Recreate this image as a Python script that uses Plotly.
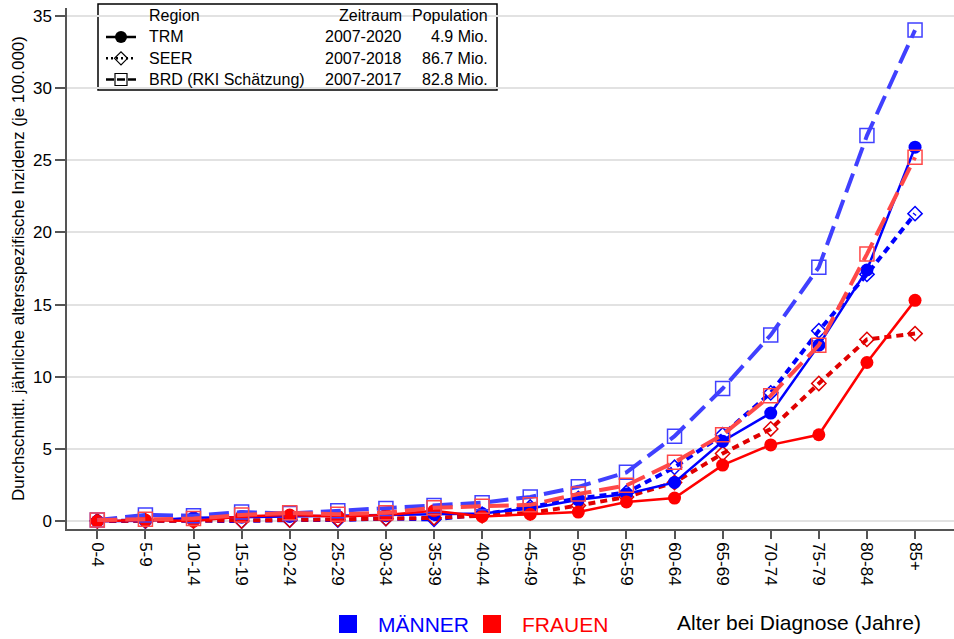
import plotly.graph_objects as go

age_groups = ["0-4", "5-9", "10-14", "15-19", "20-24", "25-29", "30-34", "35-39", "40-44",
              "45-49", "50-54", "55-59", "60-64", "65-69", "70-74", "75-79", "80-84", "85+"]

men_trm = [0.02, 0.05, 0.25, 0.3, 0.35, 0.35, 0.4, 0.5, 0.55, 0.9, 1.5, 1.9, 2.7, 5.55, 7.5, 12.2, 17.4, 25.9]
women_trm = [0.02, 0.1, 0.03, 0.35, 0.45, 0.35, 0.45, 0.75, 0.35, 0.5, 0.65, 1.35, 1.62, 3.9, 5.3, 6.0, 11.0, 15.3]
men_seer = [0.05, 0.02, 0.05, 0.03, 0.1, 0.1, 0.2, 0.15, 0.5, 1.0, 1.6, 2.0, 3.75, 6.0, 8.9, 13.2, 17.1, 21.3]
women_seer = [0.03, 0.05, 0.03, 0.03, 0.1, 0.15, 0.2, 0.25, 0.4, 0.6, 1.1, 1.7, 2.7, 4.7, 6.4, 9.55, 12.6, 13.0]
men_brd = [0.1, 0.45, 0.4, 0.65, 0.55, 0.75, 0.9, 1.1, 1.3, 1.7, 2.4, 3.4, 5.9, 9.2, 12.9, 17.6, 26.7, 34.0]
women_brd = [0.1, 0.15, 0.2, 0.45, 0.6, 0.5, 0.6, 0.95, 1.05, 1.15, 1.9, 2.5, 4.1, 6.0, 8.7, 12.2, 18.5, 25.2]

legend_regions = ["TRM", "SEER", "BRD (RKI Schätzung)"]
legend_periods = ["2007-2020", "2007-2018", "2007-2017"]
legend_pops = ["4.9 Mio.", "86.7 Mio.", "82.8 Mio."]

FONT = "Liberation Sans, Arial, sans-serif"
BLUE = "#0000ff"
RED = "#ff0000"
BLUE_L = "#4040ff"
RED_L = "#ff4848"

fig = go.Figure()

def add(y, color, kind):
    if kind == "seer":
        fig.add_trace(go.Scatter(x=age_groups, y=y, mode="lines+markers", showlegend=False,
                                 line=dict(color=color, width=4, dash="7px,5px"),
                                 marker=dict(symbol="diamond-open", size=11, color=color, line=dict(width=1.5, color=color))))
    elif kind == "trm":
        fig.add_trace(go.Scatter(x=age_groups, y=y, mode="lines+markers", showlegend=False,
                                 line=dict(color=color, width=2.5),
                                 marker=dict(symbol="circle", size=13, color=color)))
    else:
        fig.add_trace(go.Scatter(x=age_groups, y=y, mode="lines+markers", showlegend=False,
                                 line=dict(color=color, width=4, dash="20px,8px"),
                                 marker=dict(symbol="square-open", size=14, color=color, line=dict(width=1.5, color=color))))

add(men_seer, BLUE, "seer")
add(women_seer, "#e00000", "seer")
add(men_trm, BLUE, "trm")
add(women_trm, RED, "trm")
add(men_brd, BLUE_L, "brd")
add(women_brd, RED_L, "brd")

# legend dummy traces (black symbols only; names drawn as annotations)
fig.add_trace(go.Scatter(x=[None], y=[None], mode="lines+markers", name=" ",
                         line=dict(color="black", width=2.5), marker=dict(symbol="circle", size=12, color="black")))
fig.add_trace(go.Scatter(x=[None], y=[None], mode="lines+markers", name="  ",
                         line=dict(color="black", width=2.5, dash="2px,3px"),
                         marker=dict(symbol="diamond-open", size=10, color="black", line=dict(width=1.2))))
fig.add_trace(go.Scatter(x=[None], y=[None], mode="lines+markers", name="   ",
                         line=dict(color="black", width=2.5, dash="8px,3px"),
                         marker=dict(symbol="square-open", size=12, color="black", line=dict(width=1.2))))

L, R, T, B = 67, 0, 8, 110
W, H = 954, 639
pw = W - L - R
ph = H - T - B

def px(x):
    return (x - L) / pw

def py(y):
    return (H - B - y) / ph

# legend box
fig.add_shape(type="rect", xref="paper", yref="paper", x0=px(98), x1=px(497), y0=py(90), y1=py(4),
              line=dict(color="black", width=1.5), fillcolor="white", layer="below")

ann = []
ann.append(dict(x=px(147), y=py(16), text="Region", xanchor="left"))
ann.append(dict(x=px(404), y=py(16), text="Zeitraum", xanchor="right"))
ann.append(dict(x=px(490), y=py(16), text="Population", xanchor="right"))
rows_y = [36, 58, 80]
for i in range(3):
    ann.append(dict(x=px(147), y=py(rows_y[i]), text=legend_regions[i], xanchor="left"))
    ann.append(dict(x=px(404), y=py(rows_y[i]), text=legend_periods[i], xanchor="right"))
    ann.append(dict(x=px(490), y=py(rows_y[i]), text=legend_pops[i], xanchor="right"))
for a in ann:
    a.update(xref="paper", yref="paper", yanchor="middle", showarrow=False,
             font=dict(family=FONT, size=16, color="black"))
    fig.add_annotation(**a)

# bottom legend
fig.add_shape(type="rect", xref="paper", yref="paper", x0=px(339), x1=px(357), y0=py(633), y1=py(615),
              line=dict(width=0), fillcolor=BLUE)
fig.add_shape(type="rect", xref="paper", yref="paper", x0=px(483), x1=px(501), y0=py(633), y1=py(615),
              line=dict(width=0), fillcolor=RED)
fig.add_annotation(xref="paper", yref="paper", x=px(376), y=py(624), text="MÄNNER", xanchor="left",
                   yanchor="middle", showarrow=False, font=dict(family=FONT, size=21, color=BLUE))
fig.add_annotation(xref="paper", yref="paper", x=px(520), y=py(624), text="FRAUEN", xanchor="left",
                   yanchor="middle", showarrow=False, font=dict(family=FONT, size=21, color=RED))
fig.add_annotation(xref="paper", yref="paper", x=px(923), y=py(622), text="Alter bei Diagnose (Jahre)",
                   xanchor="right", yanchor="middle", showarrow=False, font=dict(family=FONT, size=21, color="black"))

fig.update_layout(
    width=W, height=H,
    margin=dict(l=L, r=R, t=T, b=B),
    paper_bgcolor="white", plot_bgcolor="white",
    font=dict(family=FONT, color="black"),
    legend=dict(x=px(101), y=py(21.5), xanchor="left", yanchor="top", bgcolor="rgba(0,0,0,0)",
                borderwidth=0, font=dict(family=FONT, size=14), tracegroupgap=0, itemwidth=30),
    xaxis=dict(type="category", range=[-0.63, 17.81], showgrid=False, showline=True,
               linecolor="#555555", linewidth=1.5, ticks="outside", ticklen=8, tickcolor="#555555",
               tickwidth=1.5, tickangle=90, tickfont=dict(family=FONT, size=17, color="black")),
    yaxis=dict(range=[-0.52, 35.53], showgrid=True, gridcolor="#e2e2e2", gridwidth=1.5, zeroline=False,
               showline=True, linecolor="#555555", linewidth=1.5, ticks="outside", ticklen=10,
               tickcolor="#555555", tickwidth=1.5, tickvals=[0, 5, 10, 15, 20, 25, 30, 35],
               tickfont=dict(family=FONT, size=17, color="black"),
               title=dict(text="Durchschnittl. jährliche altersspezifische Inzidenz (je 100.000)",
                          font=dict(family=FONT, size=17, color="black"), standoff=4)),
)

fig.write_html("out.html", config={"displayModeBar": False},
               post_script="document.body.style.margin='0px';")
